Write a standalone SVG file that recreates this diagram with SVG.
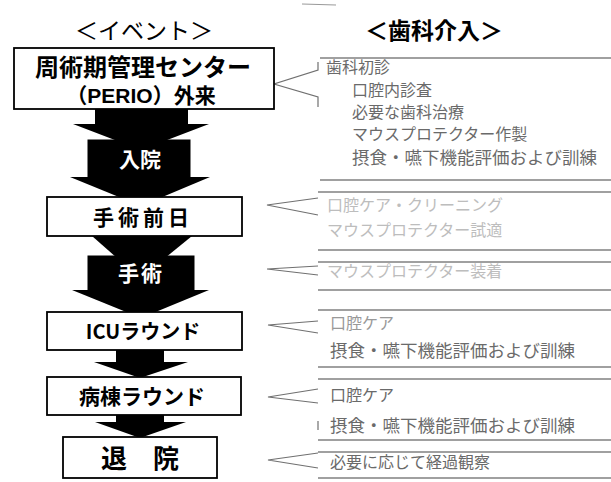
<svg xmlns="http://www.w3.org/2000/svg" width="611" height="482" viewBox="0 0 611 482">
<style>
.hd{font-family:"Noto Sans CJK JP","Noto Sans",sans-serif;font-size:23px;fill:#000}
.ev{font-family:"Noto Sans CJK JP","Noto Sans",sans-serif;font-weight:bold;fill:#000;text-anchor:middle}
.ev2{font-family:"Liberation Sans","Noto Sans CJK JP",sans-serif;font-weight:bold;fill:#000;text-anchor:middle}
.evw{font-family:"Noto Sans CJK JP","Noto Sans",sans-serif;font-weight:bold;fill:#fff;text-anchor:middle}
.box{fill:#fff;stroke:#000;stroke-width:1.8}
.blk{fill:#000;stroke:#000;stroke-width:1}
.arr{fill:#000}
.cl{stroke:#808080;stroke-width:1.5;fill:none}
.ptr{stroke:#707070;stroke-width:1.2;fill:none}
.tx{font-family:"Noto Sans CJK JP","Noto Sans",sans-serif;font-size:16px;fill:#6a6a6a}
.tl{font-family:"Noto Sans CJK JP","Noto Sans",sans-serif;font-size:17.5px;fill:#6a6a6a}
.tf{font-family:"Noto Sans CJK JP","Noto Sans",sans-serif;font-size:16px;fill:#bdbdbd}
</style>
<line x1="302" y1="4" x2="336" y2="5" stroke="#999" stroke-width="1"/>
<text class="hd" x="75" y="39">＜イベント＞</text>
<text class="hd" x="365" y="39" font-weight="bold">＜歯科介入＞</text>
<g id="connectors">
  <polygon class="arr" points="95,109 188,109 188,124 209,124 141,150 73,124 95,124"/>
  <polygon class="arr" points="70,177 210,177 141,206"/>
  <polygon class="arr" points="92,236 192,236 165,258 117,258"/>
  <polygon class="arr" points="72,290 209,290 141,318"/>
  <polygon class="arr" points="116,350 164,350 164,362 188,362 140,378 94,362 116,362"/>
  <polygon class="arr" points="116,415 164,415 164,422 186,422 140,438 95,422 116,422"/>
  <polyline class="ptr" points="318,62 318,70 274,84 318,97 318,107"/>
  <polyline class="ptr" points="318,198 267,205 318,215"/>
  <polyline class="ptr" points="318,266 267,269 318,275"/>
  <polyline class="ptr" points="318,321 268,325 318,333"/>
  <polyline class="ptr" points="318,389 268,397 318,403"/>
  <line class="ptr" x1="318" y1="421" x2="318" y2="430"/>
  <polyline class="ptr" points="318,453 268,460 318,468"/>
</g>
<g id="n-perio">
  <rect class="box" x="14" y="48" width="260" height="61" stroke-width="2.2"/>
  <text class="ev2" x="143" y="76" style="font-size:24px">周術期管理センター</text>
  <text class="ev2" x="141" y="103" style="font-size:21px">（PERIO）外来</text>
</g>
<g id="n-nyuin">
  <rect class="blk" x="88" y="140" width="102" height="37"/>
  <text class="evw" x="140" y="167" style="font-size:21px">入院</text>
</g>
<g id="n-zenjitsu">
  <rect class="box" x="47" y="197" width="195" height="39"/>
  <text class="ev" x="143" y="225" style="font-size:21px" letter-spacing="4">手術前日</text>
</g>
<g id="n-shujutsu">
  <rect class="blk" x="88" y="256" width="106" height="34"/>
  <text class="evw" x="141" y="281" style="font-size:21px" letter-spacing="2">手術</text>
</g>
<g id="n-icu">
  <rect class="box" x="47" y="312" width="195" height="38"/>
  <text class="ev" x="143" y="339" style="font-size:20px">ICUラウンド</text>
</g>
<g id="n-byoto">
  <rect class="box" x="47" y="377" width="194" height="38"/>
  <text class="ev" x="142" y="404" style="font-size:21px">病棟ラウンド</text>
</g>
<g id="n-taiin">
  <rect class="box" x="63" y="437" width="154" height="41"/>
  <text class="ev" x="140" y="468" style="font-size:26px">退　院</text>
</g>
<g id="c1">
  <line class="cl" x1="320" y1="58" x2="611" y2="58"/>
  <line class="cl" x1="320" y1="180" x2="611" y2="180"/>
  <text class="tx" x="326" y="73">歯科初診</text>
  <text class="tx" x="352" y="96">口腔内診査</text>
  <text class="tx" x="352" y="118">必要な歯科治療</text>
  <text class="tx" x="352" y="140">マウスプロテクター作製</text>
  <text class="tl" x="352" y="164">摂食・嚥下機能評価および訓練</text>
</g>
<g id="c2">
  <line class="cl" x1="318" y1="192" x2="611" y2="192"/>
  <line class="cl" x1="318" y1="250" x2="611" y2="250"/>
  <text class="tf" x="327" y="211">口腔ケア・クリーニング</text>
  <text class="tf" x="327" y="236">マウスプロテクター試適</text>
</g>
<g id="c3">
  <line class="cl" x1="318" y1="262" x2="611" y2="262"/>
  <line class="cl" x1="318" y1="290" x2="611" y2="290"/>
  <text class="tf" x="327" y="277">マウスプロテクター装着</text>
</g>
<g id="c4">
  <line class="cl" x1="318" y1="310" x2="611" y2="310"/>
  <line class="cl" x1="318" y1="367" x2="611" y2="367"/>
  <text class="tx" x="330" y="329" style="fill:#999">口腔ケア</text>
  <text class="tl" x="330" y="357">摂食・嚥下機能評価および訓練</text>
</g>
<g id="c5">
  <line class="cl" x1="318" y1="379" x2="611" y2="379"/>
  <line class="cl" x1="318" y1="440" x2="611" y2="440"/>
  <text class="tx" x="330" y="401">口腔ケア</text>
  <text class="tl" x="330" y="432">摂食・嚥下機能評価および訓練</text>
</g>
<g id="c6">
  <line class="cl" x1="318" y1="452" x2="611" y2="452"/>
  <line class="cl" x1="318" y1="478" x2="611" y2="478"/>
  <text class="tx" x="330" y="468">必要に応じて経過観察</text>
</g>
</svg>
